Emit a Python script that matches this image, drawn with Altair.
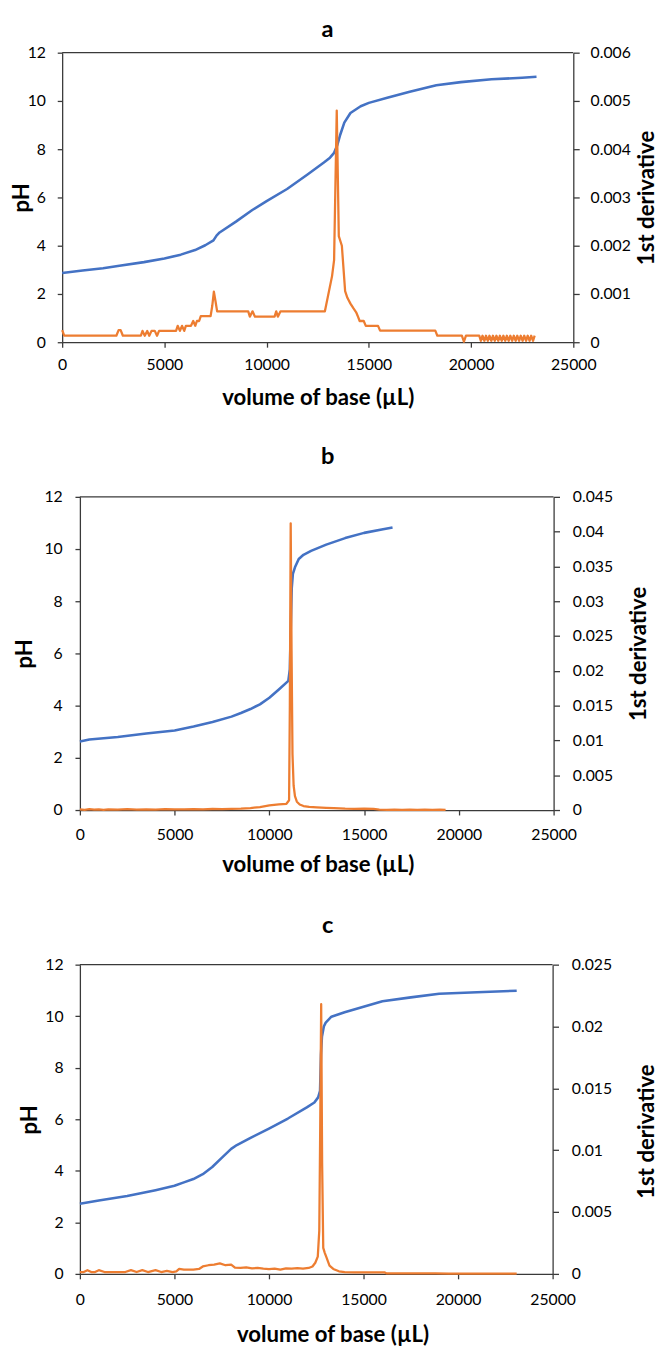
import altair as alt
import pandas as pd

FONT = "Lato"
BLUE = "#4472C4"
ORANGE = "#ED7D31"
DARK = "#3a3a3a"

panel_letters = ["a", "b", "c"]
x_ticks = [0, 5000, 10000, 15000, 20000, 25000]
ph_ticks = [0, 2, 4, 6, 8, 10, 12]
frame_vol = [0]
frame_vol_end = [25000]
frame_ph = [12]

# ---------------- panel a ----------------
a_ph_vol = [0, 1000, 2000, 2800, 4000, 5000, 5800, 6500, 7000, 7400, 7550, 7700,
            8500, 9300, 10000, 11000, 12000, 12800, 13100, 13300, 13450, 13600,
            13800, 14100, 14600, 15000, 15900, 17000, 18300, 19500, 21000, 22500, 23200]
a_ph = [2.87, 2.97, 3.07, 3.17, 3.32, 3.47, 3.63, 3.82, 4.02, 4.22, 4.42, 4.55,
        5.0, 5.48, 5.85, 6.35, 6.95, 7.45, 7.65, 7.85, 8.15, 8.6,
        9.1, 9.5, 9.78, 9.92, 10.13, 10.38, 10.65, 10.78, 10.9, 10.96, 11.0]
a_der_vol = [0, 100, 2650, 2760, 2860, 2970, 3850, 3930, 4040, 4160,
             4260, 4370, 4530, 4640, 4740, 5570, 5650, 5760, 5860, 5970,
             6050, 6300, 6410, 6510, 6590, 6700, 6780, 7260, 7340, 7420,
             7500, 7580, 9100, 9180, 9310, 9430, 10390, 10470, 10550, 10680,
             12850, 13200, 13300, 13430, 13530, 13680, 13840, 13950, 14100, 14250,
             14380, 14450, 14550, 14750, 14850, 15450, 15550, 18250, 18350, 19550,
             19650, 19750, 20400,
             20480, 20560, 20650, 20730, 20820, 20900, 20990, 21070, 21160, 21240,
             21330, 21410, 21500, 21580, 21670, 21750, 21840, 21920, 22010, 22090,
             22180, 22260, 22350, 22430, 22520, 22600, 22690, 22770, 22860, 22940,
             23030, 23110]
a_der_e4 = [2.5, 1.35, 1.35, 2.5, 2.5, 1.35, 1.35, 2.35, 1.35, 2.35,
            1.35, 2.35, 2.35, 1.35, 2.35, 2.35, 3.4, 2.35, 3.4, 2.35,
            3.4, 3.4, 4.4, 3.4, 4.4, 4.4, 5.4, 5.4, 7.5, 10.5,
            8.5, 6.4, 6.4, 5.3, 6.4, 5.3, 5.3, 6.4, 5.3, 6.4,
            6.4, 13.7, 17, 48, 22, 20, 10.6, 9.2, 8, 7,
            6.2, 5.5, 4.4, 4.4, 3.4, 3.4, 2.4, 2.4, 1.35, 1.35,
            0.1, 1.35, 1.35,
            0.3, 1.35, 0.3, 1.35, 0.3, 1.35, 0.3, 1.35, 0.3, 1.35,
            0.3, 1.35, 0.3, 1.35, 0.3, 1.35, 0.3, 1.35, 0.3, 1.35,
            0.3, 1.35, 0.3, 1.35, 0.3, 1.35, 0.3, 1.35, 0.3, 1.35,
            0.3, 1.35]
a_der_ticks = [0, 0.001, 0.002, 0.003, 0.004, 0.005, 0.006]

# ---------------- panel b ----------------
b_ph_vol = [0, 500, 2000, 3500, 5000, 6000, 7000, 8000, 8500, 9000,
            9500, 10000, 10500, 11000, 11080, 11130, 11180, 11240, 11350, 11550,
            11800, 12200, 13000, 14000, 15000, 16000, 16500]
b_ph = [2.63, 2.70, 2.80, 2.93, 3.05, 3.2, 3.37, 3.58, 3.72, 3.87,
        4.05, 4.3, 4.62, 4.95, 5.4, 7.0, 8.5, 9.05, 9.3, 9.62,
        9.78, 9.93, 10.17, 10.42, 10.62, 10.76, 10.83]
b_der_vol = [0, 250, 500, 750, 1000, 1250, 1500, 2000, 2500, 3000,
             3500, 4000, 4500, 5000, 5500, 6000, 6500, 7000, 7500, 8000,
             8500, 9000, 9500, 10000, 10500, 10900, 11040, 11080, 11125, 11170,
             11220, 11280, 11350, 11450, 11600, 11800, 12100, 12500, 13000, 13400,
             13700, 14000, 14500, 15000, 15500, 15800, 16200, 16600, 17000, 17400,
             17800, 18200, 18600, 19000, 19300]
b_der_e4 = [1.0, 0.3, 1.2, 0.5, 1.0, 0.3, 1.1, 0.6, 1.2, 0.5,
            1.0, 0.6, 1.2, 0.8, 1.0, 1.3, 0.9, 1.5, 1.2, 1.8,
            2.0, 2.8, 4.3, 6.6, 8.0, 9.0, 14, 150, 412, 230,
            80, 35, 20, 12, 8, 5.7, 4.5, 3.8, 3.2, 2.8,
            2.3, 1.9, 1.7, 2.0, 1.6, 0.6, 0.4, 0.7, 0.3, 0.6,
            0.2, 0.5, 0.2, 0.5, 0.3]
b_der_ticks = [0, 0.005, 0.01, 0.015, 0.02, 0.025, 0.03, 0.035, 0.04, 0.045]

# ---------------- panel c ----------------
c_ph_vol = [0, 1000, 2500, 4000, 5000, 5500, 6000, 6500, 7000, 7500,
            8000, 8300, 9000, 10000, 11000, 12000, 12400, 12600, 12700, 12750,
            12800, 12900, 13000, 13300, 14000, 15000, 16000, 17500, 19000, 21000,
            23100]
c_ph = [2.72, 2.85, 3.02, 3.25, 3.42, 3.55, 3.68, 3.87, 4.15, 4.5,
        4.85, 5.0, 5.27, 5.64, 6.03, 6.46, 6.65, 6.85, 7.1, 8.5,
        9.2, 9.6, 9.75, 9.98, 10.15, 10.37, 10.58, 10.73, 10.87, 10.93,
        10.99]
c_der_vol = [0, 200, 400, 600, 800, 1000, 1300, 1600, 2000, 2400,
             2700, 3000, 3300, 3600, 4000, 4300, 4600, 4900, 5100, 5250,
             5500, 6000, 6300, 6500, 6800, 7100, 7400, 7700, 8000, 8200,
             8500, 8800, 9100, 9400, 9700, 10000, 10300, 10600, 10900, 11200,
             11500, 11800, 12100, 12300, 12450, 12580, 12660, 12710, 12760, 12810,
             12870, 12950, 13050, 13200, 13400, 13700, 14000, 14500, 15000, 15500,
             16100, 16200, 17000, 18000, 18800, 19500, 20500, 21500, 22300, 23100]
c_der_e4 = [1.5, 1.5, 3, 1.5, 1.5, 3, 1.5, 1.5, 1.5, 1.5,
            3, 1.5, 3, 1.5, 3, 1.5, 2.5, 1.5, 2, 4,
            3.5, 3.5, 4, 6, 7, 7.5, 8.5, 7, 7.5, 5,
            4.8, 5.2, 4.5, 4.8, 4.2, 3.8, 4.2, 3.5, 4.5, 4.3,
            4.6, 4.2, 4.8, 6, 9, 14, 35, 120, 218, 90,
            21, 17, 13, 6.6, 4, 2.1, 1.4, 1.3, 1.3, 1.3,
            1.3, 0.5, 0.5, 0.5, 0.4, 0.3, 0.3, 0.3, 0.3, 0.2]
c_der_ticks = [0, 0.005, 0.01, 0.015, 0.02, 0.025]

# layout settings per panel (pixels)
LAYOUT = {
    "a": dict(width=519, height=294, x0=0, xlp=10, xty=56, xtx=259.5, ltx=-41, llp=12,
              rlp=11, rtx=74, rty=147, lx=269.5, ly=-16),
    "b": dict(width=499, height=318, x0=18, xlp=12, xty=55, xtx=259.5, ltx=-56.5, llp=13,
              rlp=13, rtx=86, rty=159, lx=269.5, ly=-33),
    "c": dict(width=498, height=314, x0=18, xlp=13, xty=62, xtx=274.5, ltx=-51.5, llp=12,
              rlp=13, rtx=95, rty=169, lx=269.5, ly=-32),
}


def make_panel(idx, ph_vol, ph, der_vol, der_e4, der_ticks):
    letter = panel_letters[idx]
    L = LAYOUT[letter]
    ph_df = pd.DataFrame({"vol": ph_vol, "pH": ph})
    der_df = pd.DataFrame({"vol": der_vol, "der": [v * 1e-4 for v in der_e4]})
    frame_df = pd.DataFrame({"vol": frame_vol, "vol_end": frame_vol_end, "pH": frame_ph})
    label_df = pd.DataFrame({"label": [letter]})
    xscale = alt.Scale(domain=[0, 25000], range=[L["x0"], L["width"]], nice=False, zero=False)
    yscale = alt.Scale(domain=[0, 12], nice=False, zero=False)

    xaxis = alt.Axis(orient="bottom", values=x_ticks, format="d",
                     title="volume of base (µL)", grid=False, tickSize=5,
                     labelPadding=L["xlp"], labelFlush=False, labelOverlap=False,
                     titleX=L["xtx"], titleY=L["xty"], titleBaseline="middle",
                     titleAlign="center", titleFontSize=22.5, titleFontWeight="bold")
    yaxis = alt.Axis(orient="left", values=ph_ticks, format="d", title="pH",
                     grid=False, tickSize=5, offset=-L["x0"],
                     labelPadding=L["llp"], labelOverlap=False,
                     titleX=L["ltx"], titleY=L["height"] / 2, titleAngle=270,
                     titleBaseline="middle", titleAlign="center",
                     titleFontSize=22.5, titleFontWeight="bold")

    blue = alt.Chart(ph_df).mark_line(color=BLUE, strokeWidth=2.6, strokeJoin="round").encode(
        x=alt.X("vol:Q", scale=xscale, axis=xaxis),
        y=alt.Y("pH:Q", scale=yscale, axis=yaxis),
    )
    frame = alt.Chart(frame_df).mark_rule(color=DARK, strokeWidth=1.3).encode(
        x=alt.X("vol:Q", scale=xscale, axis=xaxis),
        x2="vol_end:Q",
        y=alt.Y("pH:Q", scale=yscale, axis=yaxis),
    )
    orange = alt.Chart(der_df).mark_line(color=ORANGE, strokeWidth=2.3, strokeJoin="round").encode(
        x=alt.X("vol:Q", scale=xscale, axis=xaxis),
        y=alt.Y("der:Q", scale=alt.Scale(domain=[0, der_ticks[-1]], nice=False, zero=False),
                axis=alt.Axis(orient="right", values=der_ticks, format=".3~f",
                              title="1st derivative", grid=False, tickSize=6,
                              labelPadding=L["rlp"], labelOverlap=False,
                              titleX=L["rtx"], titleY=L["rty"], titleAngle=270,
                              titleBaseline="middle", titleAlign="center",
                              titleFontSize=22.5, titleFontWeight="bold")),
    )
    label = alt.Chart(label_df).mark_text(
        font=FONT, fontSize=24, fontWeight="bold", color="black",
        align="center", baseline="alphabetic",
    ).encode(text="label:N", x=alt.value(L["lx"]), y=alt.value(L["ly"]))

    left = alt.layer(frame, blue, label)
    return alt.layer(left, orange).resolve_scale(y="independent").properties(
        width=L["width"], height=L["height"],
    )


pa = make_panel(0, a_ph_vol, a_ph, a_der_vol, a_der_e4, a_der_ticks)
pb = make_panel(1, b_ph_vol, b_ph, b_der_vol, b_der_e4, b_der_ticks)
pc = make_panel(2, c_ph_vol, c_ph, c_der_vol, c_der_e4, c_der_ticks)

chart = alt.vconcat(pa, pb, pc, spacing=157, bounds="flush").properties(
    padding={"left": 3, "top": 0, "right": 0, "bottom": 0}
).configure_view(strokeWidth=0).configure_axis(
    labelFont=FONT, titleFont=FONT, labelFontSize=16, labelColor="black",
    titleColor="black", domainColor=DARK, tickColor=DARK, domainWidth=1.3, tickWidth=1.3,
)

chart.save("out.html", embed_options={"renderer": "svg", "actions": False})
